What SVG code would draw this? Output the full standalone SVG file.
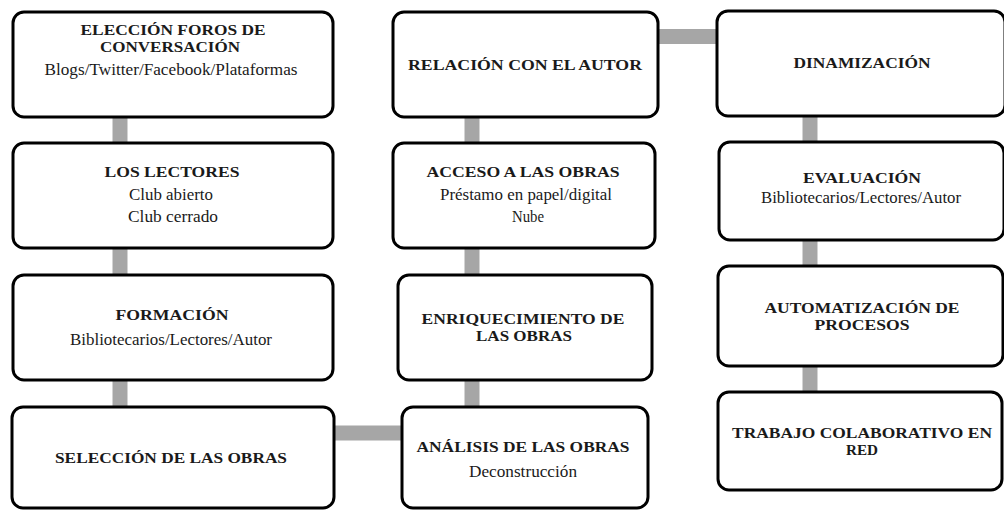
<svg xmlns="http://www.w3.org/2000/svg" width="1004" height="510" viewBox="0 0 1004 510">
<style>
.box{fill:#fff;stroke:#000;stroke-width:3}
.con{stroke:#a6a6a6;stroke-width:15;fill:none}
.t{font-family:"Liberation Serif","Times New Roman",serif;font-size:15.5px;font-weight:bold;fill:#1a1a1a;text-anchor:middle}
.s{font-family:"Liberation Serif","Times New Roman",serif;font-size:16px;fill:#1a1a1a;text-anchor:middle}
</style>
<rect width="1004" height="510" fill="#fff"/>
<g id="connectors">
<line class="con" x1="120" y1="110" x2="120" y2="150"/>
<line class="con" x1="120" y1="240" x2="120" y2="282"/>
<line class="con" x1="120" y1="372" x2="120" y2="414"/>
<line class="con" x1="472" y1="110" x2="472" y2="150"/>
<line class="con" x1="472" y1="240" x2="472" y2="282"/>
<line class="con" x1="472" y1="372" x2="472" y2="414"/>
<line class="con" x1="810" y1="108" x2="810" y2="149"/>
<line class="con" x1="810" y1="233" x2="810" y2="273"/>
<line class="con" x1="810" y1="359" x2="810" y2="399"/>
<line class="con" x1="326" y1="433" x2="409" y2="433"/>
<line class="con" x1="651" y1="36.5" x2="724" y2="36.5"/>
</g>
<g id="n1"><rect class="box" x="13" y="12" width="320" height="105" rx="11"/>
<text class="t" x="173" y="35" textLength="185" lengthAdjust="spacingAndGlyphs">ELECCIÓN FOROS DE</text>
<text class="t" x="170" y="52" textLength="140" lengthAdjust="spacingAndGlyphs">CONVERSACIÓN</text>
<text class="s" x="171" y="75" textLength="253" lengthAdjust="spacingAndGlyphs">Blogs/Twitter/Facebook/Plataformas</text></g>
<g id="n2"><rect class="box" x="13" y="143" width="320" height="105" rx="11"/>
<text class="t" x="172" y="177" textLength="135" lengthAdjust="spacingAndGlyphs">LOS LECTORES</text>
<text class="s" x="171" y="200" textLength="84" lengthAdjust="spacingAndGlyphs">Club abierto</text>
<text class="s" x="173" y="222" textLength="90" lengthAdjust="spacingAndGlyphs">Club cerrado</text></g>
<g id="n3"><rect class="box" x="13" y="275" width="320" height="105" rx="11"/>
<text class="t" x="172" y="320" textLength="113" lengthAdjust="spacingAndGlyphs">FORMACIÓN</text>
<text class="s" x="171" y="345" textLength="202" lengthAdjust="spacingAndGlyphs">Bibliotecarios/Lectores/Autor</text></g>
<g id="n4"><rect class="box" x="12" y="407" width="322" height="101" rx="11"/>
<text class="t" x="171" y="463" textLength="232" lengthAdjust="spacingAndGlyphs">SELECCIÓN DE LAS OBRAS</text></g>
<g id="n5"><rect class="box" x="393" y="12" width="265" height="105" rx="11"/>
<text class="t" x="525" y="70" textLength="234" lengthAdjust="spacingAndGlyphs">RELACIÓN CON EL AUTOR</text></g>
<g id="n6"><rect class="box" x="393" y="143" width="262" height="105" rx="11"/>
<text class="t" x="523" y="177" textLength="193" lengthAdjust="spacingAndGlyphs">ACCESO A LAS OBRAS</text>
<text class="s" x="526" y="200" textLength="172" lengthAdjust="spacingAndGlyphs">Préstamo en papel/digital</text>
<text class="s" x="528" y="222" textLength="32" lengthAdjust="spacingAndGlyphs">Nube</text></g>
<g id="n7"><rect class="box" x="398" y="275" width="254" height="105" rx="11"/>
<text class="t" x="523" y="324" textLength="203" lengthAdjust="spacingAndGlyphs">ENRIQUECIMIENTO DE</text>
<text class="t" x="524" y="341" textLength="96" lengthAdjust="spacingAndGlyphs">LAS OBRAS</text></g>
<g id="n8"><rect class="box" x="402" y="407" width="246" height="101" rx="11"/>
<text class="t" x="523" y="452" textLength="213" lengthAdjust="spacingAndGlyphs">ANÁLISIS DE LAS OBRAS</text>
<text class="s" x="523" y="477" textLength="108" lengthAdjust="spacingAndGlyphs">Deconstrucción</text></g>
<g id="n9"><rect class="box" x="717" y="11" width="288" height="105" rx="11"/>
<text class="t" x="862" y="68" textLength="137" lengthAdjust="spacingAndGlyphs">DINAMIZACIÓN</text></g>
<g id="n10"><rect class="box" x="719" y="142" width="285" height="98" rx="11"/>
<text class="t" x="862" y="183" textLength="118" lengthAdjust="spacingAndGlyphs">EVALUACIÓN</text>
<text class="s" x="861" y="203" textLength="200" lengthAdjust="spacingAndGlyphs">Bibliotecarios/Lectores/Autor</text></g>
<g id="n11"><rect class="box" x="718" y="266" width="285" height="100" rx="11"/>
<text class="t" x="862" y="313" textLength="195" lengthAdjust="spacingAndGlyphs">AUTOMATIZACIÓN DE</text>
<text class="t" x="862" y="330" textLength="95" lengthAdjust="spacingAndGlyphs">PROCESOS</text></g>
<g id="n12"><rect class="box" x="718" y="392" width="284" height="98" rx="11"/>
<text class="t" x="862" y="438" textLength="260" lengthAdjust="spacingAndGlyphs">TRABAJO COLABORATIVO EN</text>
<text class="t" x="862" y="455" textLength="32" lengthAdjust="spacingAndGlyphs">RED</text></g>
</svg>
